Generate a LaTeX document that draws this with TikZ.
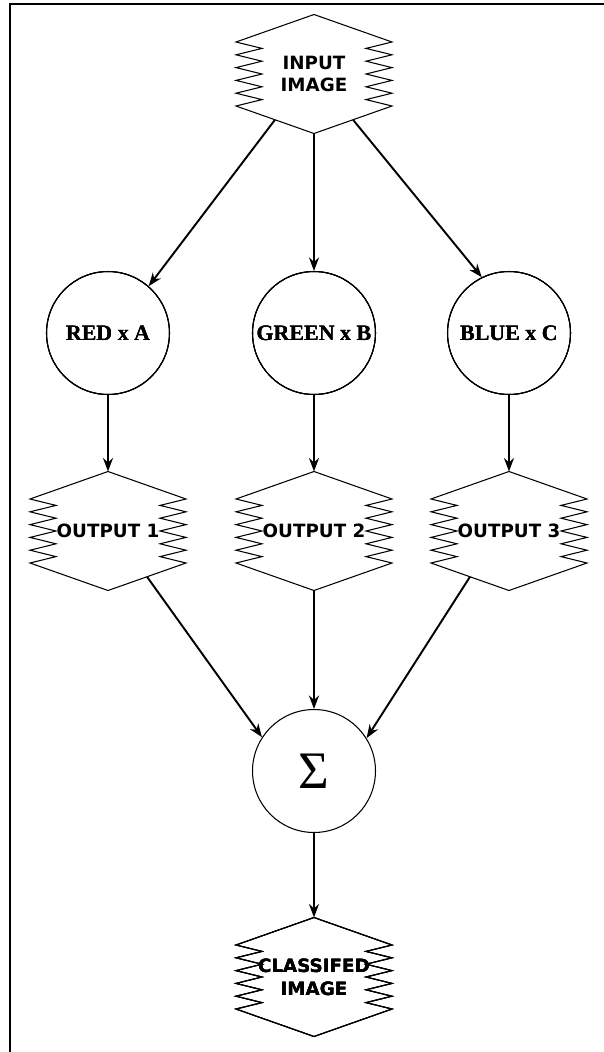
\documentclass[tikz,border=0pt]{standalone}
\usepackage{fontspec}
\setmainfont{Liberation Serif}
\newfontfamily\hexfont{DejaVu Sans}
\usetikzlibrary{arrows.meta}

% zigzag box: name, x, y, text
\newcommand{\zighex}[4]{%
  \begin{scope}[shift={(#2,#3)}]
    \draw[hexline] (0,-59.5) -- (78,-32)
      \foreach \k in {0,...,4} { -- (52,-25.6+12.8*\k) -- (78,-19.2+12.8*\k) }
      -- (0,59.5) -- (-78,32)
      \foreach \k in {0,...,4} { -- (-52,25.6-12.8*\k) -- (-78,19.2-12.8*\k) }
      -- cycle;
    \node[hexlabel] (#1) at (0,0) {#4};
    \coordinate (#1-n) at (0,-59.5);
    \coordinate (#1-s) at (0,59.5);
    \coordinate (#1-sw) at (-39,45.75);
    \coordinate (#1-se) at (39,45.75);
  \end{scope}}

\begin{document}
\begin{tikzpicture}[x=0.02cm, y=-0.02cm,
  hexline/.style={line width=0.6pt},
  hexlabel/.style={font=\hexfont\bfseries\fontsize{10.4}{13}\selectfont, align=center, inner sep=0pt},
  disc/.style={circle, draw, line width=0.6pt, minimum size=2.46cm, inner sep=0pt,
    font=\bfseries\fontsize{12.5}{15}\selectfont},
  link/.style={-{Stealth[length=0.27cm,width=0.2cm]}, line width=1.1pt}]
  \useasboundingbox (0,0) rectangle (604,1052);
  \draw[line width=1.2pt] (604,4) -- (10,4) -- (10,1052);
  \zighex{input}{314}{74}{INPUT\\IMAGE}
  \foreach \n/\x/\t in {out1/108/OUTPUT 1, out2/314/OUTPUT 2, out3/509/OUTPUT 3}
    \zighex{\n}{\x}{531}{\t}
  \zighex{cls}{314}{977}{CLASSIFED\\IMAGE}
  \foreach \n/\x/\t in {red/108/RED x A, green/314/GREEN x B, blue/509/BLUE x C}
    \node[disc] (\n) at (\x,333) {\t};
  \node[disc, font=\fontsize{30}{30}\selectfont] (sum) at (314,771) {Σ};
  \draw[link] (input-sw) -- (red.49);
  \draw[link] (input-s) -- (green);
  \draw[link] (input-se) -- (blue.116);
  \foreach \a/\b in {red/out1, green/out2, blue/out3}
    \draw[link] (\a) -- (\b-n);
  \draw[link] (out1-se) -- (sum.147);
  \draw[link] (out2-s) -- (sum);
  \draw[link] (out3-sw) -- (sum.32);
  \draw[link] (sum) -- (cls-n);
\end{tikzpicture}
\end{document}
